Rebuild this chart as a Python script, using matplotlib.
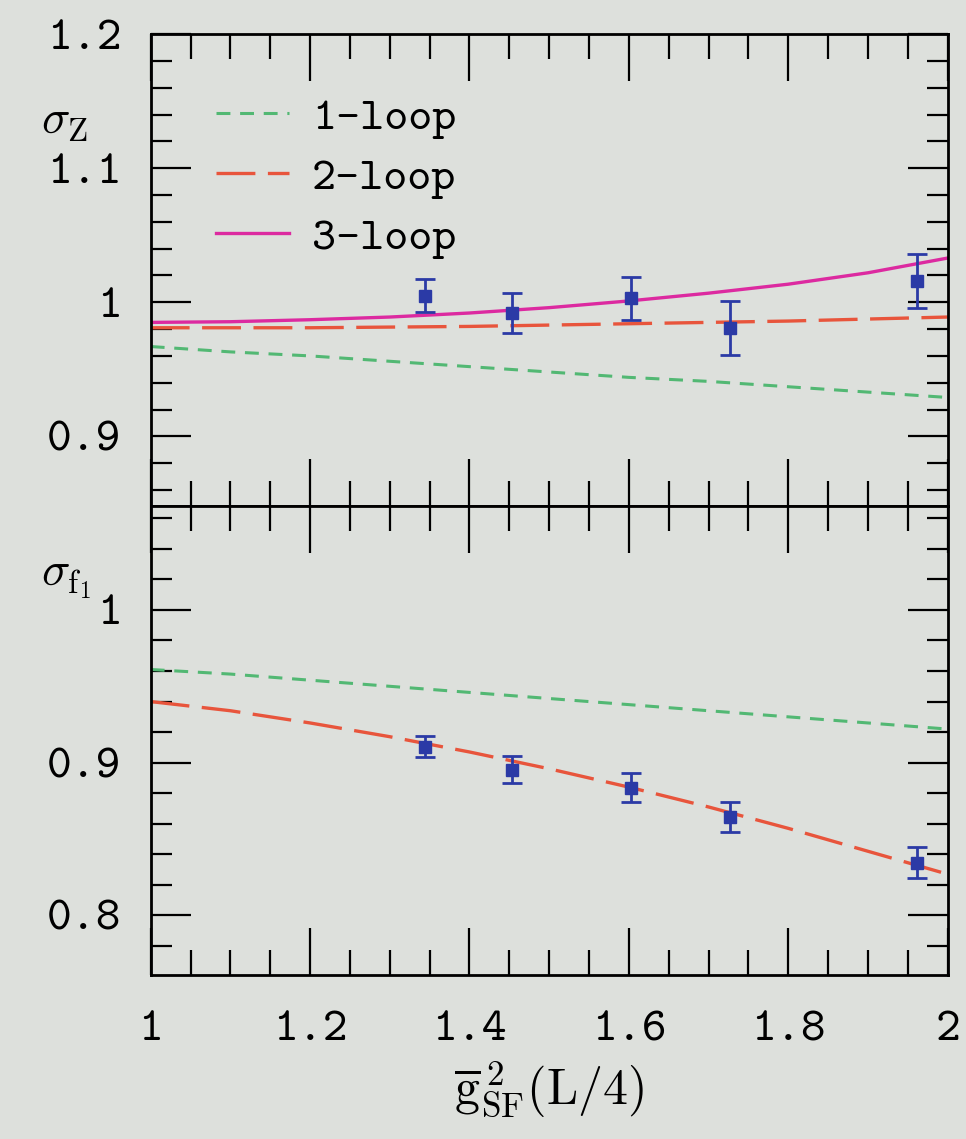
import matplotlib
matplotlib.use("Agg")
import matplotlib.pyplot as plt
from matplotlib.ticker import FixedLocator, MultipleLocator, FixedFormatter

plt.rcParams["mathtext.fontset"] = "cm"
plt.rcParams["lines.scale_dashes"] = False

# data points (coupling values)
x_points = [1.344, 1.453, 1.603, 1.727, 1.961]

# upper panel: sigma_Z
sigz_vals = [1.005, 0.992, 1.003, 0.981, 1.016]
sigz_errs = [0.0125, 0.015, 0.016, 0.020, 0.020]

# lower panel: sigma_f1
sigf_vals = [0.9105, 0.8954, 0.8837, 0.8647, 0.8346]
sigf_errs = [0.0068, 0.0090, 0.0095, 0.0098, 0.0100]

# perturbative curves, read at these x values
x_curve = [1.0, 1.1, 1.2, 1.3, 1.4, 1.5, 1.6, 1.7, 1.8, 1.9, 2.0]
z_loop1 = [0.967, 0.963, 0.960, 0.956, 0.952, 0.948, 0.944, 0.941, 0.937, 0.933, 0.929]
z_loop2 = [0.981, 0.981, 0.981, 0.9815, 0.982, 0.983, 0.984, 0.985, 0.986, 0.9875, 0.989]
z_loop3 = [0.985, 0.9855, 0.987, 0.989, 0.992, 0.996, 1.001, 1.0068, 1.0135, 1.022, 1.033]
f_loop1 = [0.961, 0.958, 0.954, 0.950, 0.946, 0.942, 0.938, 0.934, 0.930, 0.926, 0.922]
f_loop2 = [0.940, 0.934, 0.926, 0.917, 0.907, 0.896, 0.884, 0.871, 0.857, 0.842, 0.827]

x_ticks = [1.0, 1.2, 1.4, 1.6, 1.8, 2.0]
x_ticklabels = ["1", "1.2", "1.4", "1.6", "1.8", "2"]
z_ticks = [0.9, 1.0, 1.1, 1.2]
z_ticklabels = ["0.9", "1", "1.1", "1.2"]
f_ticks = [0.8, 0.9, 1.0]
f_ticklabels = ["0.8", "0.9", "1"]

BG = "#dde0dc"
GREEN = "#52b873"
RED = "#e8553c"
MAGENTA = "#dc2aa0"
BLUE = "#2b3aa6"
TICKFONT = "cmtt10"

fig = plt.figure(figsize=(9.66, 11.39), dpi=100, facecolor=BG)
ax1 = fig.add_axes([0.156, 0.5557, 0.825, 0.4143], facecolor=BG)
ax2 = fig.add_axes([0.156, 0.144, 0.825, 0.4117], facecolor=BG, sharex=ax1)

# upper panel
ax1.plot(x_curve, z_loop1, color=GREEN, lw=2.2, dashes=(10, 7), label="1-loop")
ax1.plot(x_curve, z_loop2, color=RED, lw=2.4, dashes=(28, 9), label="2-loop")
ax1.plot(x_curve, z_loop3, color=MAGENTA, lw=2.4, label="3-loop")
ax1.errorbar(x_points, sigz_vals, yerr=sigz_errs, fmt="s", color=BLUE, ms=8,
             capsize=7, capthick=2, elinewidth=2, zorder=5)

# lower panel
ax2.plot(x_curve, f_loop1, color=GREEN, lw=2.2, dashes=(10, 7))
ax2.plot(x_curve, f_loop2, color=RED, lw=2.4, dashes=(28, 9))
ax2.errorbar(x_points, sigf_vals, yerr=sigf_errs, fmt="s", color=BLUE, ms=8,
             capsize=7, capthick=2, elinewidth=2, zorder=5)

ax1.set_xlim(1.0, 2.0)
ax1.set_ylim(0.848, 1.2)
ax2.set_ylim(0.761, 1.068)

for ax in (ax1, ax2):
    for sp in ax.spines.values():
        sp.set_linewidth(2)
    ax.xaxis.set_major_locator(FixedLocator(x_ticks))
    ax.xaxis.set_minor_locator(MultipleLocator(0.05))
    ax.yaxis.set_minor_locator(MultipleLocator(0.02))
    ax.tick_params(which="both", direction="in", top=True, right=True, width=1.6)
    ax.tick_params(axis="x", which="major", length=34)
    ax.tick_params(axis="x", which="minor", length=18)
    ax.tick_params(axis="y", which="major", length=29, pad=21)
    ax.tick_params(axis="y", which="minor", length=15)

ax1.yaxis.set_major_locator(FixedLocator(z_ticks))
ax1.yaxis.set_major_formatter(FixedFormatter(z_ticklabels))
ax2.yaxis.set_major_locator(FixedLocator(f_ticks))
ax2.yaxis.set_major_formatter(FixedFormatter(f_ticklabels))
ax2.xaxis.set_major_formatter(FixedFormatter(x_ticklabels))
ax1.tick_params(axis="x", labelbottom=False)

for ax in (ax1, ax2):
    for lab in ax.get_xticklabels() + ax.get_yticklabels():
        lab.set_fontfamily(TICKFONT)
        lab.set_fontsize(34)
ax2.tick_params(axis="x", pad=26)

ax2.set_xlabel(r"$\overline{\mathrm{g}}^{\,2}_{\mathrm{SF}}(\mathrm{L}/4)$", fontsize=36, labelpad=6)

fig.text(0.042, 0.893, r"$\sigma_{\mathrm{Z}}$", fontsize=34, ha="left", va="center")
fig.text(0.042, 0.492, r"$\sigma_{\mathrm{f}_1}$", fontsize=34, ha="left", va="center")

leg = ax1.legend(loc="upper left", bbox_to_anchor=(0.03, 0.955), frameon=False,
                 handlelength=1.6, handletextpad=0.5, labelspacing=0.39,
                 prop={"family": TICKFONT, "size": 33})

fig.savefig("out.png", dpi=100, facecolor=BG)
